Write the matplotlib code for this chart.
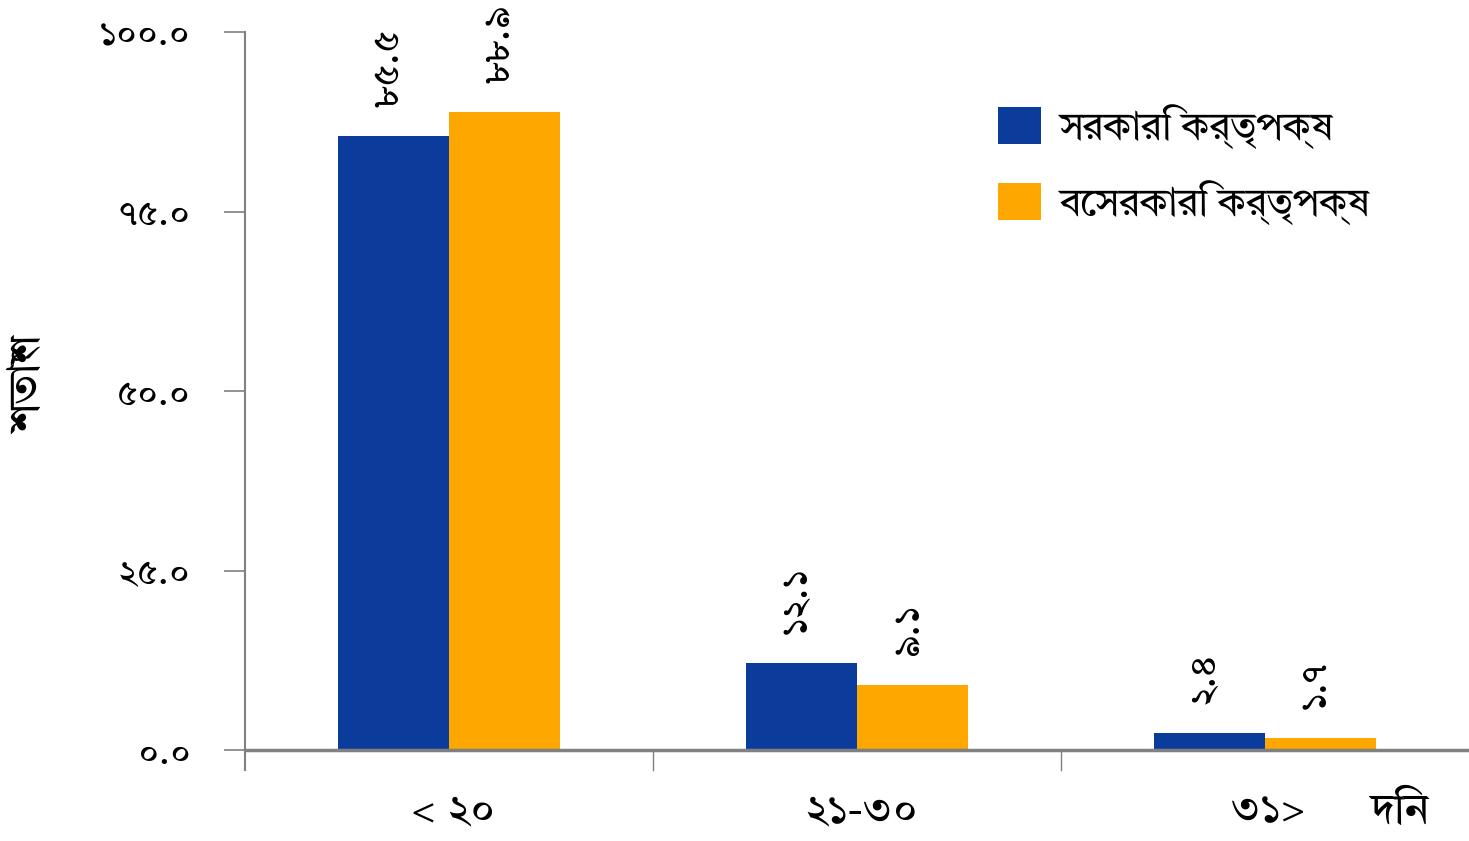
import matplotlib
matplotlib.use("Agg")
import matplotlib.pyplot as plt
import numpy as np

categories = ["< ২০", "২১-৩০", "৩১>"]
series_names = ["সরকারি কর্তৃপক্ষ", "বেসরকারি কর্তৃপক্ষ"]
govt = [85.5, 12.1, 2.4]
private = [88.9, 9.1, 1.7]
govt_labels = ["৮৫.৫", "১২.১", "২.৪"]
private_labels = ["৮৮.৯", "৯.১", "১.৭"]
yticks = [0, 25, 50, 75, 100]
ytick_labels = ["০.০", "২৫.০", "৫০.০", "৭৫.০", "১০০.০"]
ylabel = "শতাংশ"
unit_label = "দিন"

plt.rcParams["font.family"] = ["Tiro Bangla", "Noto Sans Bengali", "DejaVu Sans"]

BLUE = "#0B3B9B"
ORANGE = "#FDA700"
GRAY = "#808080"

fig = plt.figure(figsize=(14.69, 8.41), dpi=100)
ax = fig.add_axes([245 / 1469, (841 - 770) / 841, 1 - 245 / 1469, (770 - 32) / 841])

x = np.arange(len(categories))
w = 0.272
b1 = ax.bar(x - w / 2, govt, w, color=BLUE, label=series_names[0])
b2 = ax.bar(x + w / 2, private, w, color=ORANGE, label=series_names[1])

ymin = -100 * 20 / 718
ax.set_ylim(ymin, 100)
ax.set_xlim(-0.5, 2.5)

for s in ["top", "right", "bottom"]:
    ax.spines[s].set_visible(False)
ax.spines["left"].set_color(GRAY)
ax.spines["left"].set_linewidth(1.5)
ax.axhline(0, color=GRAY, lw=2.5, zorder=3)

ax.set_yticks(yticks)
ax.set_yticklabels(ytick_labels, fontsize=26)
ax.tick_params(axis="y", length=15, width=1.2, color=GRAY, pad=24)
ax.set_xticks([0.5, 1.5])
ax.set_xticklabels([])
ax.tick_params(axis="x", length=0)
for xs in [0.5, 1.5]:
    ax.plot([xs, xs], [0, ymin], color=GRAY, lw=1.0, clip_on=False)

for i, c in enumerate(categories):
    ax.text(i + 0.01, ymin - 2.8, c, ha="center", va="top", fontsize=31)
ax.text(2.33, ymin - 2.8, unit_label, ha="center", va="top", fontsize=31)

for bars, labs in [(b1, govt_labels), (b2, private_labels)]:
    for r, t in zip(bars, labs):
        ax.text(r.get_x() + r.get_width() / 2 - 0.015, r.get_height() + 4, t,
                rotation=90, ha="center", va="bottom", fontsize=27)

fig.text(30 / 1469, 1 - 385 / 841, ylabel, rotation=90, ha="center", va="center", fontsize=32)

leg = ax.legend(loc="upper left", bbox_to_anchor=((963 - 245) / (1469 - 245), 0.95),
                frameon=False, fontsize=28, handlelength=1.1, handleheight=1.1,
                labelspacing=0.8, handletextpad=0.5)

fig.savefig("out.png", dpi=100)
